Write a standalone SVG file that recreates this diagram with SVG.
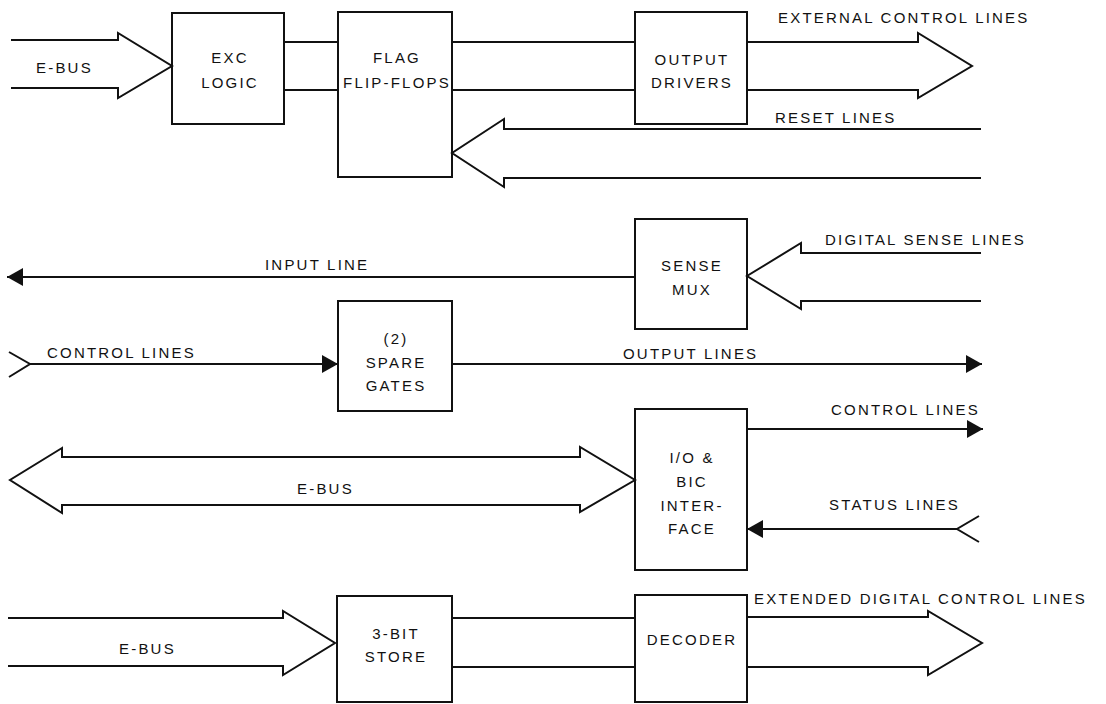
<svg xmlns="http://www.w3.org/2000/svg" width="1106" height="704" viewBox="0 0 1106 704">
<style>
.n rect{fill:none;stroke:#111;stroke-width:2}
text{font-family:"Liberation Sans",Arial,sans-serif;font-size:15px;letter-spacing:2.2px;fill:#111}
.m{text-anchor:middle}
.c path{fill:none;stroke:#111;stroke-width:2;stroke-linejoin:miter}
.c path.f{marker-end:url(#ah)}
</style>
<defs>
<marker id="ah" markerUnits="userSpaceOnUse" markerWidth="16" markerHeight="18" refX="16" refY="9" orient="auto">
<path d="M0,0 L16,9 L0,18 Z" fill="#111"/>
</marker>
</defs>
<rect width="1106" height="704" fill="#fff"/>
<g id="connectors" class="c">
<path d="M11,40 H118 V33 L172,66 L118,98 V88 H11"/>
<path d="M284,42 H338 M284,90 H338"/>
<path d="M452,42 H635 M452,90 H635"/>
<path d="M747,42 H918 V33 L972,66 L918,98 V90 H747"/>
<path d="M981,129 H504 V119 L452,153 L504,187 V178 H981"/>
<path class="f" d="M635,277 H7"/>
<path d="M981,253 H801 V243 L747,276 L801,309 V301 H981"/>
<path d="M9,352 L30,364 L9,377"/>
<path class="f" d="M30,364 H338"/>
<path class="f" d="M452,364 H982"/>
<path class="f" d="M747,429 H983"/>
<path d="M979,516 L957,529 L979,542"/>
<path class="f" d="M957,529 H747"/>
<path d="M62,448 L10,480 L62,513 V505 H580 V512 L635,480 L580,447 V457 H62 Z"/>
<path d="M8,618 H283 V611 L335,643 L283,675 V666 H8"/>
<path d="M452,618 H635 M452,667 H635"/>
<path d="M747,617 H928 V611 L982,643 L928,675 V667 H747"/>
</g>
<g id="labels">
<text x="36" y="73">E-BUS</text>
<text x="778" y="23">EXTERNAL CONTROL LINES</text>
<text x="775" y="123">RESET LINES</text>
<text x="265" y="270">INPUT LINE</text>
<text x="825" y="245">DIGITAL SENSE LINES</text>
<text x="47" y="358">CONTROL LINES</text>
<text x="623" y="359">OUTPUT LINES</text>
<text x="831" y="415">CONTROL LINES</text>
<text x="297" y="494">E-BUS</text>
<text x="829" y="510">STATUS LINES</text>
<text x="119" y="654">E-BUS</text>
<text x="754" y="604">EXTENDED DIGITAL CONTROL LINES</text>
</g>
<g id="exc" class="n"><rect x="172" y="13" width="112" height="111"/><text class="m" x="230" y="63">EXC</text><text class="m" x="230" y="88">LOGIC</text></g>
<g id="flag" class="n"><rect x="338" y="12" width="114" height="165"/><text class="m" x="397" y="63">FLAG</text><text class="m" x="397" y="88">FLIP-FLOPS</text></g>
<g id="outdrv" class="n"><rect x="635" y="12" width="112" height="112"/><text class="m" x="692" y="65">OUTPUT</text><text class="m" x="692" y="88">DRIVERS</text></g>
<g id="sensemux" class="n"><rect x="635" y="219" width="112" height="110"/><text class="m" x="692" y="271">SENSE</text><text class="m" x="692" y="295">MUX</text></g>
<g id="spare" class="n"><rect x="338" y="301" width="114" height="110"/><text class="m" x="396" y="344">(2)</text><text class="m" x="396" y="368">SPARE</text><text class="m" x="396" y="391">GATES</text></g>
<g id="iobic" class="n"><rect x="635" y="409" width="112" height="161"/><text class="m" x="692" y="463">I/O &amp;</text><text class="m" x="692" y="487">BIC</text><text class="m" x="692" y="511">INTER-</text><text class="m" x="692" y="534">FACE</text></g>
<g id="store" class="n"><rect x="337" y="596" width="115" height="106"/><text class="m" x="396" y="639">3-BIT</text><text class="m" x="396" y="662">STORE</text></g>
<g id="decoder" class="n"><rect x="635" y="595" width="112" height="107"/><text class="m" x="692" y="645">DECODER</text></g>
</svg>
